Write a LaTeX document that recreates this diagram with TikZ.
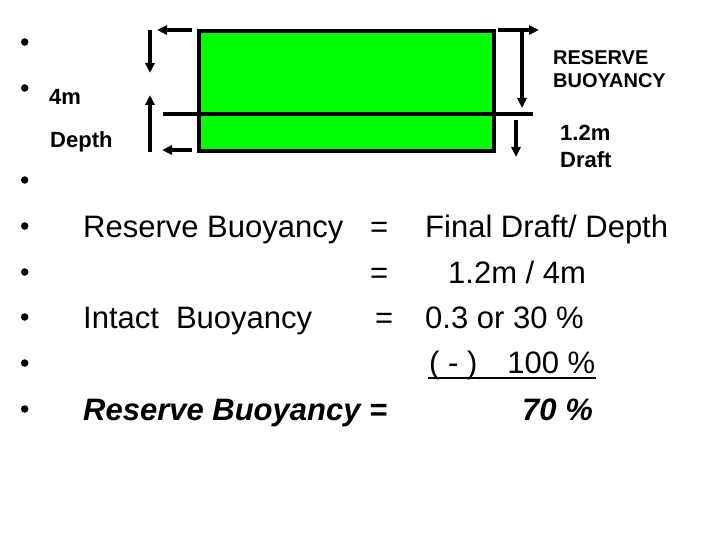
\documentclass[tikz,border=0pt]{standalone}
\usepackage{fontspec}
\setmainfont{Liberation Sans}
\usetikzlibrary{arrows.meta}
\begin{document}
\begin{tikzpicture}[x=1pt,y=-1pt,
  lbl/.style={anchor=base west,inner sep=0pt,font=\fontsize{22}{26}\selectfont\bfseries},
  lblsmall/.style={anchor=base west,inner sep=0pt,font=\fontsize{20}{24}\selectfont\bfseries},
  big/.style={anchor=base west,inner sep=0pt,font=\fontsize{31}{37}\selectfont},
  bigbi/.style={anchor=base west,inner sep=0pt,font=\fontsize{31}{37}\selectfont\bfseries\itshape},
  bul/.style={circle,fill=black,inner sep=0pt,minimum size=7.5pt},
  arr/.style={line width=3.3pt,-{Triangle[length=10pt,width=9pt]}},
  hullfill/.style={fill={rgb,255:red,0;green,255;blue,0},draw=black,line width=4pt}]
\useasboundingbox (0,0) rectangle (720,540);
\fill[white] (0,0) rectangle (720,540);
% hull
\node[hullfill,inner sep=0pt,minimum width=295pt,minimum height=120pt,anchor=north west] (hull) at (197,29) {};
% waterline
\coordinate (wl1) at (163,114);
\coordinate (wl2) at (533,114);
\draw[line width=3.5pt] (wl1) -- (wl2);
% left arrows
\coordinate (lt1) at (192,30); \coordinate (lt2) at (157,30);
\coordinate (lb1) at (192,150); \coordinate (lb2) at (162,150);
\coordinate (lv1) at (150,30); \coordinate (lv2) at (150,73);
\coordinate (lu1) at (150,152); \coordinate (lu2) at (150,95);
\draw[arr] (lt1) -- (lt2);
\draw[arr] (lb1) -- (lb2);
\draw[arr] (lv1) -- (lv2);
\draw[arr] (lu1) -- (lu2);
% right arrows
\coordinate (rt1) at (498,30); \coordinate (rt2) at (539,30);
\coordinate (rv1) at (522,30); \coordinate (rv2) at (522,108);
\coordinate (rd1) at (516,120); \coordinate (rd2) at (516,157);
\draw[arr] (rt1) -- (rt2);
\draw[arr] (rv1) -- (rv2);
\draw[arr] (rd1) -- (rd2);
% small labels
\node[lbl] (fourm) at (49,105) {4m};
\node[lbl] (depth) at (50,148) {Depth};
\node[lblsmall] (res1) at (553,65) {RESERVE};
\node[lblsmall] (res2) at (553,88) {BUOYANCY};
\node[lbl] (draft1) at (560,141) {1.2m};
\node[lbl] (draft2) at (560,168) {Draft};
% bullets
\foreach \y [count=\i] in {42,88,180,226,272,317,363,409}
  \node[bul] (b\i) at (24.7,\y) {};
% main text
\node[big] (t1) at (83,237) {Reserve Buoyancy};
\node[big] (e1) at (370,237) {=};
\node[big] (r1) at (425,237) {Final Draft/ Depth};
\node[big] (e2) at (370,283) {=};
\node[big] (r2) at (448,283) {1.2m / 4m};
\node[big] (t3) at (83,328) {Intact\hspace{17pt}Buoyancy};
\node[big] (e3) at (375,328) {=};
\node[big] (r3) at (425,328) {0.3 or 30 \%};
\node[big] (r4) at (429,373) {( - )\hspace{30pt}100 \%};
\coordinate (ul1) at (428,378); \coordinate (ul2) at (596,378);
\draw[line width=2pt] (ul1) -- (ul2);
\node[bigbi] (t5) at (83,420) {Reserve Buoyancy =};
\node[bigbi] (r5) at (522,420) {70 \%};
\end{tikzpicture}
\end{document}
